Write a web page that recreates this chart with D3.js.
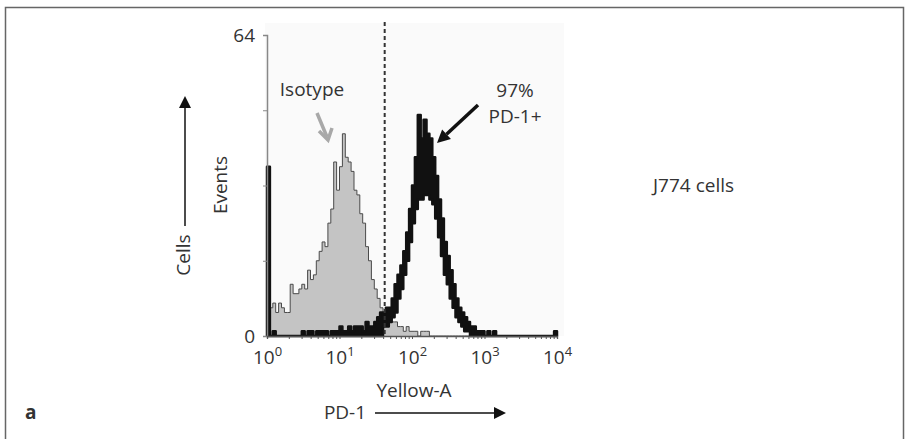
<!DOCTYPE html>
<html>
<head>
<meta charset="utf-8">
<script src="https://cdn.jsdelivr.net/npm/d3@7"></script>
<style>
  body { margin: 0; background: #fff; }
  svg text { font-family: "Open Sans", "Noto Sans", sans-serif; fill: #333; }
</style>
</head>
<body>
<div id="chart"></div>
<script>
// log10 bin width (100 bins across 10^0 .. 10^4)
const binStep = 0.04;

// isotype control, counts per bin
const isotype = [
  8, 6, 7, 5, 7, 6, 5, 5, 11, 9,
  9, 10, 11, 10, 14, 12, 13, 16, 18, 20,
  19, 24, 27, 37, 31, 36, 43, 38, 37, 35,
  31, 30, 26, 24, 19, 16, 12, 10, 8, 6,
  5, 5, 4, 3, 3, 2, 2, 1, 2, 1,
  1, 1, 0, 1, 1, 1, 0, 0, 0, 0,
  0, 0, 0, 0, 0, 0, 0, 0, 0, 0,
  0, 0, 0, 0, 0, 0, 0, 0, 0, 0,
  0, 0, 0, 0, 0, 0, 0, 0, 0, 0,
  0, 0, 0, 0, 0, 0, 0, 0, 0, 0
];

// PD-1 stained, upper and lower edge of the noisy trace
const pd1Hi = [
  36, 0, 1, 0, 0, 0, 0, 0, 0, 0,
  0, 0, 1, 0, 1, 1, 0, 1, 1, 1,
  1, 0, 1, 1, 1, 2, 1, 1, 2, 1,
  2, 2, 2, 1, 3, 2, 2, 3, 4, 5,
  5, 6, 6, 8, 11, 13, 15, 18, 22, 27,
  32, 38, 47, 42, 46, 43, 42, 38, 34, 29,
  25, 20, 17, 14, 11, 8, 6, 5, 4, 3,
  2, 2, 1, 1, 1, 0, 1, 0, 1, 0,
  0, 0, 0, 0, 0, 0, 0, 0, 0, 0,
  0, 0, 0, 0, 0, 0, 0, 0, 0, 1
];
const pd1Lo = [
  0, 0, 0, 0, 0, 0, 0, 0, 0, 0,
  0, 0, 0, 0, 0, 0, 0, 0, 0, 0,
  0, 0, 0, 0, 0, 0, 0, 0, 0, 0,
  0, 0, 0, 0, 0, 0, 0, 0, 0, 0,
  2, 2, 3, 4, 5, 8, 10, 13, 16, 20,
  24, 27, 29, 29, 30, 30, 29, 28, 25, 21,
  17, 13, 11, 8, 6, 4, 3, 2, 1, 1,
  0, 0, 0, 0, 0, 0, 0, 0, 0, 0,
  0, 0, 0, 0, 0, 0, 0, 0, 0, 0,
  0, 0, 0, 0, 0, 0, 0, 0, 0, 0
];

const yTicks = [0, 16, 32, 48, 64];
const decades = [1, 10, 100, 1000, 10000];
const gateValue = 42;

const W = 909, H = 439;
const fs = "19px";

const svg = d3.select("#chart").append("svg")
    .attr("width", W)
    .attr("height", H);

// panel frame
svg.append("rect")
    .attr("x", 5.5).attr("y", 7.5)
    .attr("width", 898).attr("height", 450)
    .attr("fill", "none")
    .attr("stroke", "#666")
    .attr("stroke-width", 1.5);

const x = d3.scaleLog().domain([1, 10000]).range([267, 557]);
const y = d3.scaleLinear().domain([0, 64]).range([336, 35]);

// plot background
svg.append("rect")
    .attr("x", 265).attr("y", 23)
    .attr("width", 299).attr("height", 313)
    .attr("fill", "#fafafa");

// bins -> rows with left edge
function rows(arr, arr2) {
    let out = arr.map((v, i) => ({lo: Math.pow(10, i * binStep), v: v, v2: arr2 ? arr2[i] : 0}));
    out.push({lo: 10000, v: arr[arr.length - 1], v2: arr2 ? arr2[arr.length - 1] : 0});
    return out;
}

const isoRows = rows(isotype);
const pdRows = rows(pd1Hi, pd1Lo);

const isoArea = d3.area()
    .x(d => x(d.lo))
    .y0(y(0))
    .y1(d => y(d.v))
    .curve(d3.curveStepAfter);
const isoLine = d3.line()
    .x(d => x(d.lo))
    .y(d => y(d.v))
    .curve(d3.curveStepAfter);

svg.append("path")
    .datum(isoRows)
    .attr("d", isoArea)
    .attr("fill", "#c4c4c4");
svg.append("path")
    .datum(isoRows)
    .attr("d", isoLine)
    .attr("fill", "none")
    .attr("stroke", "#4a4a4a")
    .attr("stroke-width", 1);

// PD-1 band
const pdArea = d3.area()
    .x(d => x(d.lo))
    .y0(d => y(d.v2))
    .y1(d => y(d.v))
    .curve(d3.curveStepAfter);
svg.append("path")
    .datum(pdRows)
    .attr("d", pdArea)
    .attr("fill", "#111")
    .attr("stroke", "#111")
    .attr("stroke-width", 2.5)
    .attr("stroke-linejoin", "round");

// gate line
svg.append("line")
    .attr("x1", x(gateValue)).attr("x2", x(gateValue))
    .attr("y1", 22).attr("y2", y(0))
    .attr("stroke", "#333")
    .attr("stroke-width", 2)
    .attr("stroke-dasharray", "4,3");

// y axis
const yAxis = svg.append("g")
    .attr("transform", "translate(267,0)")
    .call(d3.axisLeft(y).tickValues(yTicks).tickSize(4).tickPadding(8)
        .tickFormat(d => (d === 0 || d === 64) ? d : ""));
yAxis.select(".domain").attr("stroke", "#888").attr("stroke-width", 1.5);
yAxis.selectAll(".tick line").attr("stroke", "#888");
yAxis.selectAll("text").style("font-size", fs).attr("fill", "#333");

// x axis with minor log ticks
let xTickVals = [];
decades.forEach(dv => {
    if (dv < 10000) d3.range(1, 10).forEach(m => xTickVals.push(dv * m));
    else xTickVals.push(dv);
});
const xAxis = svg.append("g")
    .attr("transform", "translate(0," + y(0) + ")")
    .call(d3.axisBottom(x).tickValues(xTickVals).tickSize(3).tickPadding(12)
        .tickFormat(d => decades.includes(d) ? d : ""));
xAxis.select(".domain").attr("stroke", "#555").attr("stroke-width", 1.3);
xAxis.selectAll(".tick line").attr("stroke", "#555");
xAxis.selectAll(".tick text").each(function(d) {
    let t = d3.select(this);
    if (!decades.includes(d)) return;
    t.text(null).style("font-size", fs).attr("fill", "#333");
    t.append("tspan").text("10");
    t.append("tspan").attr("dy", -8).style("font-size", "13px").text(Math.round(Math.log10(d)));
});

// labels
function label(tx, ty, txt, anchor) {
    return svg.append("text")
        .attr("x", tx).attr("y", ty)
        .attr("text-anchor", anchor || "middle")
        .style("font-size", fs)
        .text(txt);
}

svg.append("text")
    .attr("transform", "translate(227,185) rotate(-90)")
    .attr("text-anchor", "middle")
    .style("font-size", fs)
    .text("Events");

svg.append("text")
    .attr("transform", "translate(190,255) rotate(-90)")
    .attr("text-anchor", "middle")
    .style("font-size", fs)
    .text("Cells");

label(414, 397, "Yellow-A");
label(345, 419, "PD-1");
label(312, 96, "Isotype");
label(515, 97, "97%");
label(515, 123, "PD-1+");
label(653, 192, "J774 cells", "start");

svg.append("text")
    .attr("x", 25).attr("y", 419)
    .style("font-size", "19px")
    .style("font-weight", "bold")
    .text("a");

// arrows
function arrow(x1, y1, x2, y2, color, width, head) {
    const a = Math.atan2(y2 - y1, x2 - x1);
    const bx = x2 - head * Math.cos(a), by = y2 - head * Math.sin(a);
    svg.append("line")
        .attr("x1", x1).attr("y1", y1).attr("x2", bx).attr("y2", by)
        .attr("stroke", color).attr("stroke-width", width);
    const hw = head * 0.5;
    const px = -Math.sin(a), py = Math.cos(a);
    svg.append("path")
        .attr("d", `M${x2},${y2}L${bx + px * hw},${by + py * hw}L${bx - px * hw},${by - py * hw}Z`)
        .attr("fill", color);
}

arrow(185, 226, 185, 96, "#111", 1.5, 12);
arrow(375, 413, 506, 413, "#111", 1.5, 12);
arrow(478, 105, 437, 143, "#111", 3.5, 13);

// isotype arrow drawn as open chevron
svg.append("line")
    .attr("x1", 317).attr("y1", 113).attr("x2", 327).attr("y2", 137)
    .attr("stroke", "#a8a8a8").attr("stroke-width", 3.5);
svg.append("path")
    .attr("d", "M319,131 L328,140 L332,128")
    .attr("fill", "none")
    .attr("stroke", "#a8a8a8").attr("stroke-width", 3.5)
    .attr("stroke-linejoin", "miter");
</script>
</body>
</html>
